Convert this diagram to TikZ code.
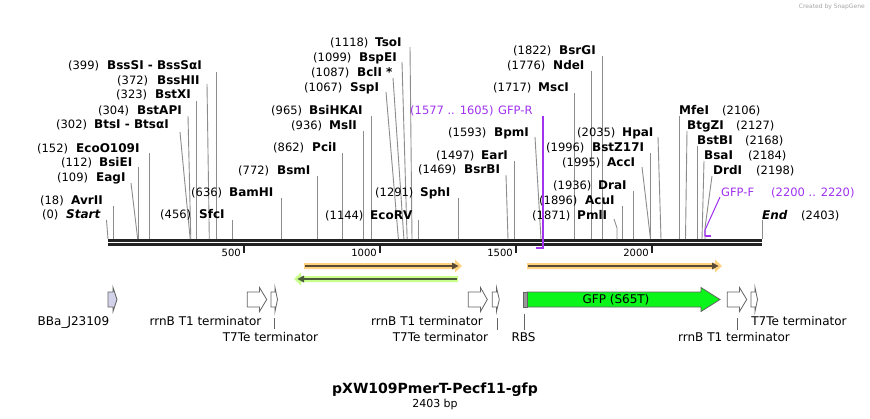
\documentclass[tikz,border=0pt]{standalone}
\usepackage{fontspec}
\setmainfont{DejaVu Sans}
\definecolor{cutgray}{RGB}{140,140,140}
\definecolor{bbcol}{RGB}{34,34,34}
\definecolor{primer}{RGB}{160,50,240}
\definecolor{orangeband}{RGB}{255,210,128}
\definecolor{orangeline}{RGB}{90,75,55}
\definecolor{greenband}{RGB}{200,255,140}
\definecolor{greenline}{RGB}{75,90,60}
\definecolor{gfpcol}{RGB}{10,245,25}
\definecolor{promoter}{RGB}{210,210,235}
\definecolor{featline}{RGB}{100,100,100}
\tikzset{
  numlbl/.style={font=\fontsize{11.5}{13}\selectfont, inner sep=0pt, anchor=base west},
  enzlbl/.style={font=\fontsize{12}{13}\selectfont\bfseries, inner sep=0pt, anchor=base west},
  primerlbl/.style={font=\fontsize{11.5}{13}\selectfont, inner sep=0pt, anchor=base west, text=primer},
  featlbl/.style={font=\fontsize{12}{14}\selectfont, inner sep=0pt, anchor=base},
  ticklbl/.style={font=\fontsize{10}{12}\selectfont, inner sep=0pt, anchor=base east},
  cutline/.style={draw=cutgray, line width=0.9pt},
  featshape/.style={draw=featline, line width=0.8pt},
  leader/.style={draw=featline, line width=0.8pt},
}
% left-labelled site: id, number, name, y, numx, namex, startx, starty, endx
\newcommand\enzL[9]{%
  \node[numlbl] (#1n) at (#5,#4+4.3) {#2};
  \node[enzlbl] (#1) at (#6,#4+4.3) {#3};
  \coordinate (#1s) at (#7,#8);
  \coordinate (#1e) at (#9,239);
  \draw[cutline] (#1s) -- (#1e);
}
% right-labelled site: id, name, number, y, namex, numx, startx, starty, endx
\newcommand\enzR[9]{%
  \node[enzlbl] (#1) at (#5,#4+4.3) {#2};
  \node[numlbl] (#1n) at (#6,#4+4.3) {#3};
  \coordinate (#1s) at (#7,#8);
  \coordinate (#1e) at (#9,239);
  \draw[cutline] (#1s) -- (#1e);
}
% block arrow feature: id, left x, head x, tip x, fill
\newcommand\barrow[5]{%
  \coordinate (#1a) at (#2,292);
  \coordinate (#1b) at (#3,292);
  \coordinate (#1c) at (#3,287.5);
  \coordinate (#1d) at (#4,299.5);
  \coordinate (#1f) at (#3,311.5);
  \coordinate (#1g) at (#3,307);
  \coordinate (#1h) at (#2,307);
  \draw[featshape, fill=#5] (#1a) -- (#1b) -- (#1c) -- (#1d) -- (#1f) -- (#1g) -- (#1h) -- cycle;
}
\begin{document}
\begin{tikzpicture}[x=1pt,y=-1pt]
\fill[white] (0,0) rectangle (870,418);
\useasboundingbox (0,0) rectangle (870,418);

\node[font=\fontsize{6}{7}\selectfont, text=black!35, anchor=east, inner sep=0pt] (wm) at (865,7) {Created by SnapGene};

% backbone
\coordinate (bbL1) at (108,240.5);
\coordinate (bbR1) at (762,240.5);
\coordinate (bbL2) at (108,244.4);
\coordinate (bbR2) at (762,244.4);
\draw[bbcol, line width=3pt] (bbL1) -- (bbR1);
\draw[bbcol, line width=2.7pt] (bbL2) -- (bbR2);

% ticks
\foreach \tx/\tl in {244/500, 380/1000, 516/1500, 652/2000}{
  \coordinate (tk\tl a) at (\tx,245.5);
  \coordinate (tk\tl b) at (\tx,252.5);
  \draw[bbcol, line width=1.5pt] (tk\tl a) -- (tk\tl b);
  \node[ticklbl] (tk\tl) at (\tx-3,256) {\tl};
}

% restriction sites, left labelled
\enzL{bsssi}{(399)}{BssSI - BssSαI}{65}{68}{107}{216.5}{72}{216.5}
\enzL{bsshii}{(372)}{BssHII}{80}{117}{157}{207}{84}{209.3}
\enzL{bstxi}{(323)}{BstXI}{94}{116}{155}{196}{101}{196}
\enzL{bstapi}{(304)}{BstAPI}{110}{98}{137}{188}{116}{190.8}
\enzL{btsi}{(302)}{BtsI - BtsαI}{124}{56}{94}{180}{132}{190.2}
\enzL{eco}{(152)}{EcoO109I}{148}{37}{76}{149.4}{153}{149.4}
\enzL{bsiei}{(112)}{BsiEI}{162}{61}{99}{138.5}{167}{138.5}
\enzL{eagi}{(109)}{EagI}{177}{57}{96}{131}{183}{137.7}
\enzL{avrii}{(18)}{AvrII}{200}{40}{71}{113}{206}{113}
\enzL{start}{(0)}{\textit{Start}}{214}{42}{66}{106.5}{220}{108}
\enzL{sfci}{(456)}{SfcI}{214}{160}{199}{232}{220}{232}
\enzL{bamhi}{(636)}{BamHI}{192}{191}{229}{281}{198}{281}
\enzL{bsmi}{(772)}{BsmI}{170}{238}{277}{317.5}{176}{317.5}
\enzL{pcii}{(862)}{PciI}{147}{273}{312}{342.5}{153}{342.5}
\enzL{msli}{(936)}{MslI}{125}{291}{329}{363}{131}{363}
\enzL{bsihkai}{(965)}{BsiHKAI}{110}{271}{309}{371}{116}{371}
\enzL{sspi}{(1067)}{SspI}{87}{304}{350}{386}{92}{398.4}
\enzL{bcli}{(1087)}{BclI *}{72}{311}{357}{393}{78}{403.9}
\enzL{bspei}{(1099)}{BspEI}{57}{313}{359}{402}{62}{407.1}
\enzL{tsoi}{(1118)}{TsoI}{42}{330}{375}{410}{47}{412}
\enzL{ecorv}{(1144)}{EcoRV}{215}{325}{370}{418.5}{220}{418.5}
\enzL{sphi}{(1291)}{SphI}{192}{375}{420}{458.5}{198}{458.5}
\enzL{bsrbi}{(1469)}{BsrBI}{169}{418}{464}{506}{175}{508}
\enzL{eari}{(1497)}{EarI}{155}{436}{481}{514.5}{161}{514.5}
\enzL{bpmi}{(1593)}{BpmI}{132}{448}{494}{535}{137}{541}
\enzL{msci}{(1717)}{MscI}{87}{493}{538}{574.5}{93}{574.5}
\enzL{ndei}{(1776)}{NdeI}{65}{507}{553}{591}{71}{591}
\enzL{bsrgi}{(1822)}{BsrGI}{50}{513}{559}{602.5}{56}{602.5}
\enzL{acui}{(1896)}{AcuI}{200}{539}{585}{622.5}{206}{622.5}
\enzL{drai}{(1936)}{DraI}{185}{553}{598}{633.5}{191}{633.5}
\enzL{acci}{(1995)}{AccI}{162}{562}{607}{642}{167}{650.5}
\enzL{bstz}{(1996)}{BstZ17I}{147}{546}{592}{650.5}{153}{650.5}
\enzL{hpai}{(2035)}{HpaI}{132}{577}{622}{658}{137}{661}
% PmlI with bend
\node[numlbl] (pmlin) at (532,219.3) {(1871)};
\node[enzlbl] (pmli) at (577,219.3) {PmlI};
\coordinate (pmlis) at (614,219);
\coordinate (pmlib) at (617,228);
\coordinate (pmlie) at (617,239);
\draw[cutline] (pmlis) -- (pmlib) -- (pmlie);

% restriction sites, right labelled
\enzR{mfei}{MfeI}{(2106)}{110}{679}{722}{679.5}{116}{679.5}
\enzR{btgzi}{BtgZI}{(2127)}{125}{687}{736}{687}{131}{685.5}
\enzR{bstbi}{BstBI}{(2168)}{140}{697}{745}{697}{146}{697}
\enzR{bsai}{BsaI}{(2184)}{155}{704}{748}{704}{161}{702}
\enzR{endsite}{\textit{End}}{(2403)}{215}{762}{801}{762}{220}{762}
% DrdI with bend
\node[enzlbl] (drdi) at (713,174.3) {DrdI};
\node[numlbl] (drdin) at (756,174.3) {(2198)};
\coordinate (drdis) at (712,176);
\coordinate (drdib) at (705,228);
\coordinate (drdie) at (705,239);
\draw[cutline] (drdis) -- (drdib) -- (drdie);

% primers
\node[primerlbl] (gfprn) at (410,114.3) {(1577 .. 1605)};
\node[primerlbl] (gfpr) at (498,114.3) {GFP-R};
\coordinate (gfprs) at (543,116);
\coordinate (gfprb) at (543,248);
\coordinate (gfpre) at (536,248);
\draw[primer, line width=1.05pt] (gfprs) -- (gfprb);
\draw[primer, line width=1.8pt] (543.5,248) -- (gfpre);

\node[primerlbl] (gfpf) at (721,196.3) {GFP-F};
\node[primerlbl] (gfpfn) at (771,196.3) {(2200 .. 2220)};
\coordinate (gfpfs) at (720,197);
\coordinate (gfpfb) at (705,230);
\coordinate (gfpfc) at (705,236);
\coordinate (gfpfe) at (711,236);
\draw[primer, line width=1.05pt] (gfpfs) -- (gfpfb) -- (gfpfc);
\draw[primer, line width=1.8pt] (704.5,236) -- (gfpfe);

% ORF / primer-binding bars
\fill[orangeband] (304,263) -- (455,263) -- (455,259.5) -- (462,266) -- (455,272.5) -- (455,269) -- (304,269) -- cycle;
\draw[orangeline, line width=2pt] (305,266) -- (453,266);
\fill[orangeline] (452,262.5) -- (458.5,266) -- (452,269.5) -- cycle;

\fill[greenband] (458,276) -- (301,276) -- (301,272.5) -- (294,279) -- (301,285.5) -- (301,282) -- (458,282) -- cycle;
\draw[greenline, line width=2pt] (457,279) -- (303,279);
\fill[greenline] (304,275.5) -- (297.5,279) -- (304,282.5) -- cycle;

\fill[orangeband] (527,263) -- (715,263) -- (715,259.5) -- (722,266) -- (715,272.5) -- (715,269) -- (527,269) -- cycle;
\draw[orangeline, line width=2pt] (528,266) -- (713,266);
\fill[orangeline] (712,262.5) -- (718.5,266) -- (712,269.5) -- cycle;

% features
\barrow{bba}{108}{113}{117}{promoter}
\barrow{rrnba}{247.3}{259.5}{266.7}{white}
\barrow{tsevena}{271}{275}{277.5}{white}
\barrow{rrnbb}{468.3}{480.5}{487.3}{white}
\barrow{tsevenb}{492.3}{496.5}{499.3}{white}
\barrow{rrnbc}{727.3}{739.5}{746.7}{white}
\barrow{tsevenc}{751}{755}{757.5}{white}
\barrow{gfp}{527}{701}{720}{gfpcol}
\coordinate (rbsa) at (523,292);
\coordinate (rbsb) at (527,307);
\draw[featshape, fill=black!40] (rbsa) rectangle (rbsb);

% leader lines
\coordinate (l1a) at (274,318); \coordinate (l1b) at (274,329);
\coordinate (l2a) at (497,318); \coordinate (l2b) at (497,330);
\coordinate (l3a) at (524,314); \coordinate (l3b) at (524,330);
\coordinate (l4a) at (737,318); \coordinate (l4b) at (737,330);
\draw[leader] (l1a) -- (l1b);
\draw[leader] (l2a) -- (l2b);
\draw[leader] (l3a) -- (l3b);
\draw[leader] (l4a) -- (l4b);

% feature labels
\node[featlbl] (fbba) at (73.5,325.4) {BBa\_J23109};
\node[featlbl] (frrn1) at (205.5,325.4) {rrnB T1 terminator};
\node[featlbl] (ft71) at (270.5,341.4) {T7Te terminator};
\node[featlbl] (frrn2) at (427,325.4) {rrnB T1 terminator};
\node[featlbl] (ft72) at (440.5,341.4) {T7Te terminator};
\node[featlbl] (frbs) at (523.5,341.4) {RBS};
\node[featlbl] (frrn3) at (734,341.4) {rrnB T1 terminator};
\node[featlbl] (ft73) at (799,325.4) {T7Te terminator};
\node[featlbl] (fgfp) at (616,303.4) {GFP (S65T)};

% title
\node[font=\fontsize{14}{16}\selectfont\bfseries, inner sep=0pt, anchor=base] (title) at (435,393.4) {pXW109PmerT-Pecf11-gfp};
\node[font=\fontsize{11}{13}\selectfont, inner sep=0pt, anchor=base] (size) at (435,407.3) {2403 bp};
\end{tikzpicture}
\end{document}
